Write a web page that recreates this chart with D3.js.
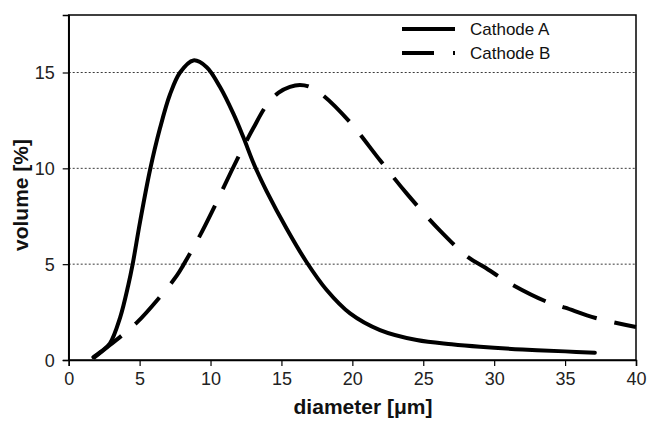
<!DOCTYPE html>
<html>
<head>
<meta charset="utf-8">
<script src="https://cdn.jsdelivr.net/npm/d3@7"></script>
<style>
  html, body { margin: 0; padding: 0; background: #fff; }
  text { font-family: "Liberation Sans", Arial, sans-serif; }
</style>
</head>
<body>
<svg id="chart" width="648" height="425"></svg>
<script>
// ---- data ----
const seriesNames = ["Cathode A", "Cathode B"];
const diameterA = [1.74, 2.3, 2.91, 3.62, 4.2, 4.51, 5.03, 5.73, 6.44, 7.14, 7.85, 8.79, 9.73, 10.67, 11.61, 12.31, 13.07, 13.96, 15.37, 16.78, 18.19, 19.84, 21.95, 24.54, 27.0, 29.0, 32.0, 35.0, 37.1];
const volumeA   = [0.15, 0.45, 0.87, 2.2, 3.9, 5.0, 7.2, 9.9, 12.1, 13.85, 15.0, 15.63, 15.28, 14.24, 12.85, 11.63, 10.2, 8.8, 6.85, 5.1, 3.65, 2.43, 1.56, 1.04, 0.82, 0.69, 0.55, 0.45, 0.38];
const diameterB = [1.74, 2.91, 4.8, 6.44, 7.62, 8.08, 9.26, 10.08, 11.5, 12.31, 13.02, 13.96, 14.8, 15.6, 16.3, 17.0, 17.95, 19.84, 21.95, 23.84, 26.18, 28.18, 29.3, 31.17, 33.64, 35.0, 37.16, 40.0];
const volumeB   = [0.09, 0.78, 1.95, 3.3, 4.4, 4.95, 6.5, 7.7, 9.9, 11.1, 12.1, 13.3, 13.95, 14.25, 14.35, 14.25, 13.8, 12.4, 10.42, 8.68, 6.75, 5.35, 4.85, 3.97, 3.06, 2.73, 2.19, 1.72];
const xTicks = [0, 5, 10, 15, 20, 25, 30, 35, 40];
const yTicks = [0, 5, 10, 15];
const gridValues = [5, 10, 15];
const xTitle = "diameter [μm]";
const yTitle = "volume [%]";

// ---- layout ----
const svg = d3.select("#chart");
const L = 68.7, R = 636, T = 15, B = 360;
const x = d3.scaleLinear().domain([0, 40]).range([L, R]);
const y = d3.scaleLinear().domain([0, 18]).range([B, T]);

// grid
svg.append("g").selectAll("line").data(gridValues).join("line")
  .attr("x1", L).attr("x2", R)
  .attr("y1", d => y(d)).attr("y2", d => y(d))
  .attr("stroke", "#3a3a3a").attr("stroke-width", 1)
  .attr("stroke-dasharray", "2,2");

// curves
const line = d3.line().x(d => x(d[0])).y(d => y(d[1])).curve(d3.curveCatmullRom.alpha(0.5));
const dataA = diameterA.map((d, i) => [d, volumeA[i]]);
const dataB = diameterB.map((d, i) => [d, volumeB[i]]);

svg.append("path").datum(dataA).attr("d", line)
  .attr("fill", "none").attr("stroke", "#000").attr("stroke-width", 4)
  .attr("stroke-linejoin", "round").attr("stroke-linecap", "round");
svg.append("path").datum(dataB).attr("d", line)
  .attr("fill", "none").attr("stroke", "#000").attr("stroke-width", 4)
  .attr("stroke-dasharray", "36,18");

// frame
svg.append("rect").attr("x", L).attr("y", T).attr("width", R - L).attr("height", B - T)
  .attr("fill", "none").attr("stroke", "#000").attr("stroke-width", 1.5);

// axes
const xAxis = d3.axisBottom(x).tickValues(xTicks).tickSize(6).tickPadding(6).tickFormat(d3.format("d"));
const gx = svg.append("g").attr("transform", `translate(0,${B})`).call(xAxis);
const yAxis = d3.axisLeft(y).tickValues(yTicks).tickSize(6).tickPadding(8).tickFormat(d3.format("d"));
const gy = svg.append("g").attr("transform", `translate(${L},0)`).call(yAxis);
[gx, gy].forEach(g => {
  g.select(".domain").attr("stroke", "#000").attr("stroke-width", 1.5);
  g.selectAll(".tick line").attr("stroke", "#000").attr("stroke-width", 1.2);
  g.selectAll(".tick text").attr("font-family", "Liberation Sans, Arial, sans-serif")
    .attr("font-size", 18).attr("fill", "#222");
});
gy.selectAll(".tick text").attr("dy", "0.35em");

// titles
svg.append("text").attr("x", 363).attr("y", 414).attr("text-anchor", "middle")
  .attr("font-size", 21).attr("font-weight", "bold").attr("fill", "#111").text(xTitle);
svg.append("text").attr("transform", "translate(28,195) rotate(-90)").attr("text-anchor", "middle")
  .attr("font-size", 21).attr("font-weight", "bold").attr("fill", "#111").text(yTitle);

// legend
const legY = [29, 53];
const lg = svg.append("g");
lg.selectAll("line").data(seriesNames).join("line")
  .attr("x1", 402).attr("x2", 455)
  .attr("y1", (d, i) => legY[i]).attr("y2", (d, i) => legY[i])
  .attr("stroke", "#000").attr("stroke-width", 4)
  .attr("stroke-dasharray", (d, i) => i === 1 ? "32,19" : null);
lg.selectAll("text").data(seriesNames).join("text")
  .attr("x", 470).attr("y", (d, i) => legY[i] + 6)
  .attr("font-size", 17).attr("fill", "#111").text(d => d);
</script>
</body>
</html>
